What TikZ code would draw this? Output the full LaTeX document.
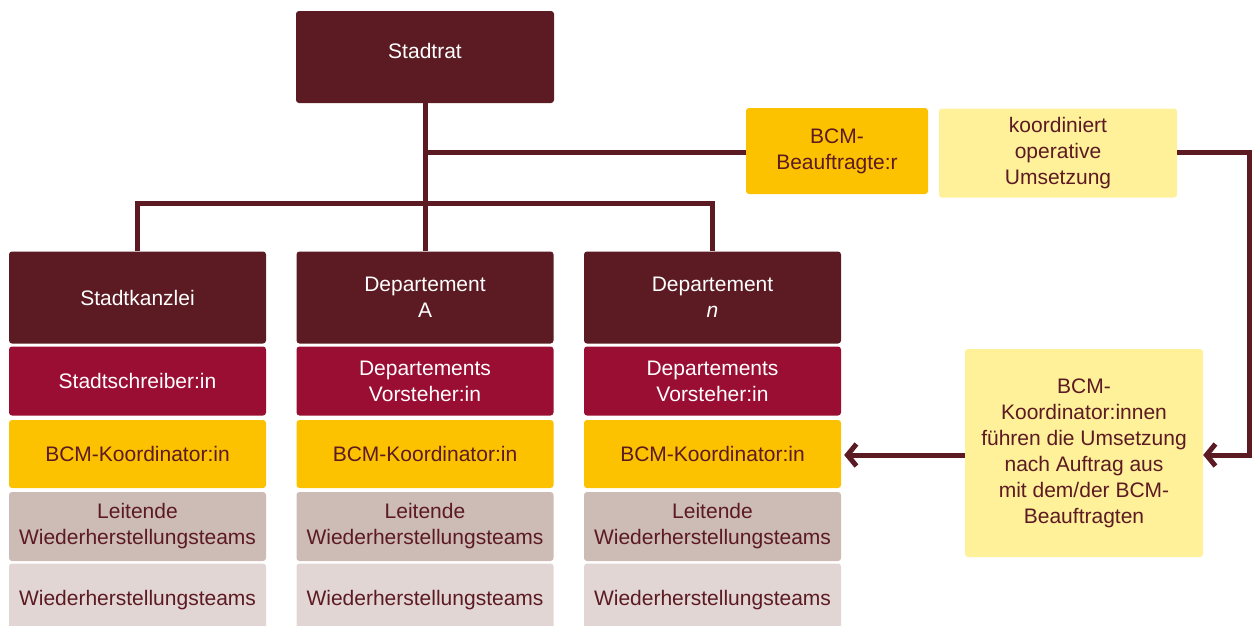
\documentclass[tikz,border=0pt]{standalone}
\usepackage{fontspec}
\setmainfont{Liberation Sans}
\usetikzlibrary{arrows.meta}
\definecolor{maroon}{HTML}{5C1A22}
\definecolor{crimson}{HTML}{9B0E33}
\definecolor{gold}{HTML}{FCC200}
\definecolor{lightyel}{HTML}{FFF09A}
\definecolor{tan}{HTML}{CDBBB5}
\definecolor{pale}{HTML}{E2D6D4}
\tikzset{
  box/.style={rounded corners=3pt, inner sep=0pt, align=center,
    font=\fontsize{21}{26}\selectfont},
  darkbox/.style={box, fill=maroon, text=white},
  redbox/.style={box, fill=crimson, text=white},
  goldbox/.style={box, fill=gold, text=maroon},
  yelbox/.style={box, fill=lightyel, text=maroon},
  tanbox/.style={box, fill=tan, text=maroon},
  palebox/.style={box, fill=pale, text=maroon},
  conn/.style={draw=maroon, line width=5pt},
  arr/.style={conn, -{Straight Barb[length=9pt,width=22pt]}},
  colw/.style={minimum width=257pt}
}
\begin{document}
\begin{tikzpicture}[x=1pt,y=-1pt]
\useasboundingbox (0,0) rectangle (1257,625);
\clip (0,0) rectangle (1257,625);
% top
\node[darkbox, minimum width=258pt, minimum height=92pt] (rat) at (425,57) {};
\node[box, text=white] (rattxt) at (425,51) {Stadtrat};
\node[goldbox, minimum width=182pt, minimum height=86pt] (beauf) at (837,151) {BCM-\\Beauftragte:r};
\node[yelbox, minimum width=238pt, minimum height=89pt] (koord) at (1058,153) {koordiniert\\operative\\Umsetzung};
\node[yelbox, minimum width=238pt, minimum height=208pt] (fuehr) at (1084,453) {BCM-\\Koordinator:innen\\führen die Umsetzung\\nach Auftrag aus\\mit dem/der BCM-\\Beauftragten};
% columns
\foreach \n/\x/\head/\vor in {a/137.5/Stadtkanzlei/Stadtschreiber:in,
   b/425/{Departement\\A}/{Departements\\Vorsteher:in},
   c/712.5/{Departement\\\textit{n}}/{Departements\\Vorsteher:in}}{
  \node[darkbox, colw, minimum height=92pt] (h\n) at (\x,297.5) {\head};
  \node[redbox, colw, minimum height=69pt] (v\n) at (\x,381) {\vor};
  \node[goldbox, colw, minimum height=68pt] (k\n) at (\x,454) {BCM-Koordinator:in};
  \node[tanbox, colw, minimum height=69pt] (l\n) at (\x,526.5) {Leitende\\Wiederherstellungsteams};
  \node[palebox, colw, minimum height=74pt] (w\n) at (\x,600.5) {Wiederherstellungsteams};
}
% connectors
\coordinate (bus) at (425,203);
\coordinate (mid) at (425,152);
\draw[conn] (rat.south) -- (hb.north);
\draw[conn] (ha.north) |- (bus) -| (hc.north);
\draw[conn] (mid) -- (beauf.west |- mid);
\coordinate (rc) at (1249,152);
\coordinate (rb) at (1249,455);
\draw[conn, line join=miter] (koord.east |- rc) -- (rc) -- (rb);
\draw[arr] ([xshift=2.5pt]rb) -- (fuehr.east |- rb);
\draw[arr] (fuehr.west |- rb) -- ([xshift=3pt]kc.east |- rb);
\end{tikzpicture}
\end{document}
